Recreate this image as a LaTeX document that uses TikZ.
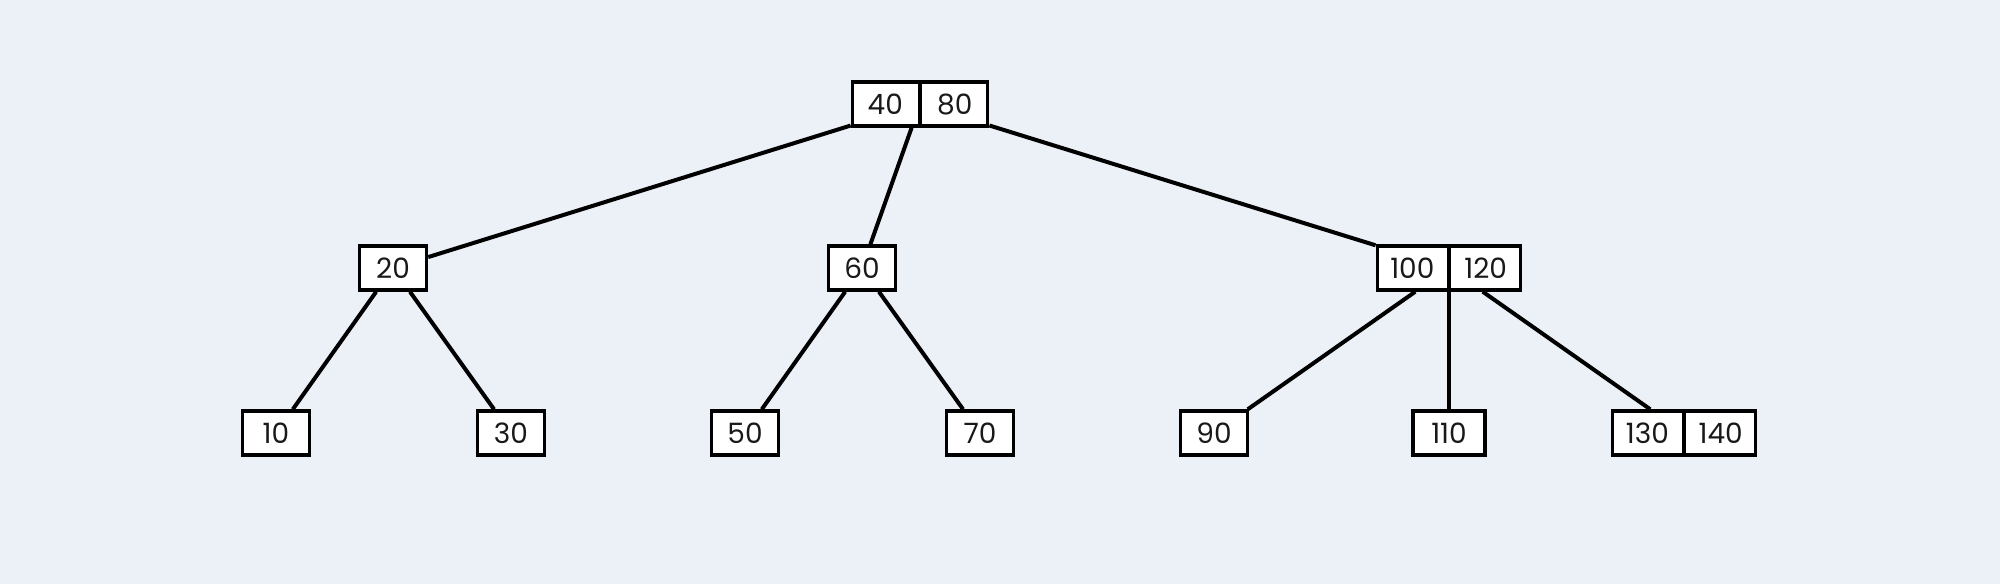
\documentclass[tikz,border=0pt]{standalone}
\usepackage{fontspec}
\setmainfont{Poppins}
\usetikzlibrary{shapes.multipart}
\definecolor{bgcol}{RGB}{236,241,247}
\newcommand\cell[2][18pt]{\makebox[#1]{#2}}
\tikzset{
  key/.style={draw=black, fill=white, line width=1.7pt, rectangle,
    minimum width=33.5pt, minimum height=22pt, inner xsep=7.5pt, inner ysep=0pt,
    text=black!90, font=\fontsize{14pt}{16pt}\selectfont},
  pair/.style={key, rectangle split, rectangle split horizontal, rectangle split parts=2},
  link/.style={line width=2pt}
}
\begin{document}
\begin{tikzpicture}[x=0.5pt,y=-0.5pt]
  \fill[bgcol] (0,0) rectangle (2000,584);
  \useasboundingbox (0,0) rectangle (2000,584);
  % root and middle level
  \node[pair] (r) at (920,104) {\cell{40}\nodepart{two}\cell{80}};
  \node[key] (n20) at (393,268) {20};
  \node[key] (n60) at (862,268) {60};
  \node[pair] (n100) at (1449,268) {\cell[20pt]{100}\nodepart{two}\cell[20pt]{120}};
  % leaves
  \foreach \v/\x in {10/276,30/511,50/745,70/980,90/1214} {
    \node[key] (n\v) at (\x,433) {\v};
  }
  \node[key] (n110) at (1449,433) {\cell[21pt]{110}};
  \node[pair] (n130) at (1684,433) {\cell[20pt]{130}\nodepart{two}\cell[20pt]{140}};
  \foreach \a/\b in {r/n20,r/n60,r/n100,n20/n10,n20/n30,n60/n50,n60/n70,n100/n90,n100/n110,n100/n130} {
    \draw[link] (\a) -- (\b);
  }
\end{tikzpicture}
\end{document}
